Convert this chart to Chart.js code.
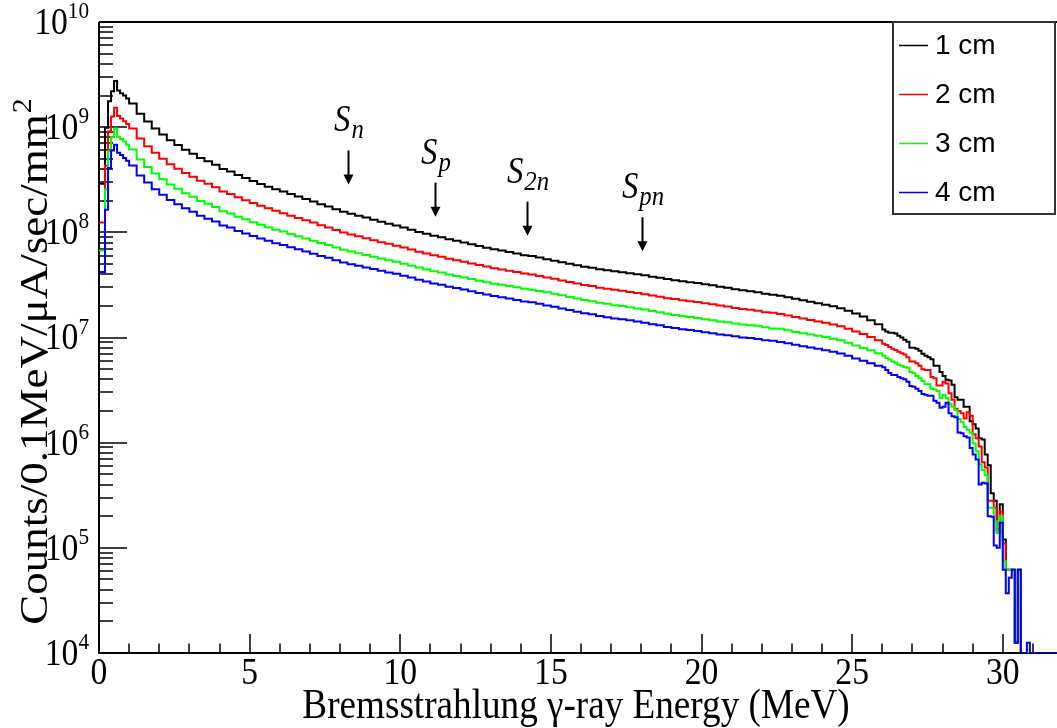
<!DOCTYPE html>
<html>
<head>
<meta charset="utf-8">
<title>Bremsstrahlung spectrum</title>
<script src="https://cdn.jsdelivr.net/npm/chart.js@4.4.1/dist/chart.umd.min.js"></script>
<style>
  html, body { margin: 0; padding: 0; background: #fff; }
  canvas { display: block; }
</style>
</head>
<body>
<canvas id="spectrum" width="1057" height="728"></canvas>
<script>
// BINNING (MeV): [from, to, bin width]
const binning = [[0, 1, 0.1], [1, 26, 0.25], [26, 32, 0.1]];

// COUNTS PER BIN (counts / 0.1 MeV / uA / sec / mm^2)
const counts1cm = [
  // 0.0 - 1.0
  2.9e8, 2.9e8, 9.9e8, 1.76e9, 2.2e9, 2.75e9, 2.23e9, 2.1e9, 2.0e9, 1.87e9,
  // 1.0 - 26.0
  1.68e9, 1.34e9, 1.13e9, 9.7e8, 8.5e8, 7.5e8, 6.75e8, 6.1e8, 5.6e8, 5.1e8,
  4.75e8, 4.4e8, 4.0e8, 3.78e8, 3.5e8, 3.28e8, 3.07e8, 2.88e8, 2.72e8, 2.57e8,
  2.44e8, 2.31e8, 2.19e8, 2.07e8, 1.96e8, 1.85e8, 1.76e8, 1.66e8, 1.57e8, 1.50e8,
  1.44e8, 1.38e8, 1.32e8, 1.26e8, 1.21e8, 1.16e8, 1.11e8, 1.06e8, 1.01e8, 9.7e7,
  9.3e7, 9.0e7, 8.6e7, 8.3e7, 8.0e7, 7.7e7, 7.4e7, 7.15e7, 6.9e7, 6.7e7,
  6.5e7, 6.3e7, 6.07e7, 5.94e7, 5.75e7, 5.56e7, 5.38e7, 5.2e7, 5.04e7, 4.87e7,
  4.71e7, 4.61e7, 4.46e7, 4.37e7, 4.27e7, 4.18e7, 4.09e7, 4.0e7, 3.91e7, 3.79e7,
  3.7e7, 3.6e7, 3.51e7, 3.43e7, 3.36e7, 3.29e7, 3.21e7, 3.14e7, 3.04e7, 2.98e7,
  2.88e7, 2.82e7, 2.76e7, 2.70e7, 2.61e7, 2.55e7, 2.50e7, 2.42e7, 2.34e7, 2.26e7,
  2.19e7, 2.12e7, 2.05e7, 1.98e7, 1.90e7, 1.80e7, 1.69e7, 1.58e7, 1.46e7, 1.34e7,
  // 26.0 - 32.0
  1.19e7, 1.14e7, 1.11e7, 1.11e7, 1.09e7, 1.04e7, 1.0e7, 9.5e6, 9.1e6, 8.0e6,
  8.0e6, 7.8e6, 7.5e6, 7.0e6, 6.7e6, 6.5e6, 6.2e6, 5.4e6, 5.4e6, 4.7e6,
  4.3e6, 3.96e6, 3.9e6, 3.55e6, 2.7e6, 2.56e6, 2.56e6, 2.2e6, 2.2e6, 1.6e6,
  1.5e6, 1.36e6, 1.1e6, 1.07e6, 7.7e5, 6.1e5, 3.3e5, 2.8e5, 1.4e5, 2.6e5,
  1.2e5, 6.2e4, 6.2e4, 6.2e4, 1.25e4, 6.2e4, 0, 0, 0, 0,
  0, 0, 0, 0, 0, 0, 0, 0, 0, 0
];

const counts2cm = [
  1.24e8, 1.24e8, 4.3e8, 9.1e8, 1.26e9, 1.53e9, 1.28e9, 1.21e9, 1.14e9, 1.07e9,
  9.7e8, 7.8e8, 6.6e8, 5.7e8, 5.0e8, 4.45e8, 4.03e8, 3.66e8, 3.38e8, 3.09e8,
  2.89e8, 2.68e8, 2.44e8, 2.32e8, 2.15e8, 2.02e8, 1.90e8, 1.79e8, 1.69e8, 1.60e8,
  1.52e8, 1.44e8, 1.37e8, 1.30e8, 1.24e8, 1.17e8, 1.11e8, 1.05e8, 9.95e7, 9.54e7,
  9.17e7, 8.8e7, 8.43e7, 8.06e7, 7.77e7, 7.46e7, 7.16e7, 6.85e7, 6.54e7, 6.3e7,
  6.05e7, 5.87e7, 5.62e7, 5.43e7, 5.25e7, 5.06e7, 4.88e7, 4.72e7, 4.56e7, 4.44e7,
  4.32e7, 4.19e7, 4.05e7, 3.97e7, 3.85e7, 3.73e7, 3.62e7, 3.49e7, 3.38e7, 3.26e7,
  3.15e7, 3.08e7, 2.97e7, 2.91e7, 2.84e7, 2.78e7, 2.71e7, 2.65e7, 2.58e7, 2.51e7,
  2.44e7, 2.36e7, 2.32e7, 2.26e7, 2.21e7, 2.17e7, 2.12e7, 2.07e7, 2.01e7, 1.97e7,
  1.91e7, 1.87e7, 1.84e7, 1.80e7, 1.74e7, 1.72e7, 1.67e7, 1.62e7, 1.57e7, 1.52e7,
  1.47e7, 1.42e7, 1.38e7, 1.33e7, 1.28e7, 1.21e7, 1.14e7, 1.08e7, 1.01e7, 9.4e6,
  8.7e6, 8.5e6, 8.1e6, 7.8e6, 7.6e6, 7.3e6, 7.1e6, 6.9e6, 6.5e6, 5.9e6,
  5.9e6, 5.7e6, 5.4e6, 5.0e6, 4.9e6, 4.9e6, 4.2e6, 4.1e6, 3.5e6, 3.5e6,
  3.8e6, 3.65e6, 2.95e6, 2.56e6, 2.1e6, 2.0e6, 1.9e6, 1.7e6, 1.95e6, 1.8e6,
  1.2e6, 1.1e6, 9.2e5, 6.5e5, 5.8e5, 2.8e5, 2.8e5, 2.4e5, 1.5e5, 2.2e5,
  1.1e5, 6.2e4, 6.2e4, 6.2e4, 1.25e4, 6.2e4, 0, 0, 0, 0,
  0, 0, 0, 0, 0, 0, 0, 0, 0, 0
];

const counts3cm = [
  6.7e7, 6.7e7, 2.55e8, 5.9e8, 8.0e8, 9.7e8, 8.1e8, 7.7e8, 7.3e8, 6.8e8,
  6.13e8, 4.93e8, 4.19e8, 3.63e8, 3.2e8, 2.85e8, 2.59e8, 2.35e8, 2.18e8, 1.99e8,
  1.87e8, 1.74e8, 1.59e8, 1.51e8, 1.41e8, 1.33e8, 1.25e8, 1.18e8, 1.12e8, 1.06e8,
  1.02e8, 9.66e7, 9.2e7, 8.76e7, 8.33e7, 7.92e7, 7.57e7, 7.19e7, 6.83e7, 6.57e7,
  6.34e7, 6.1e7, 5.86e7, 5.63e7, 5.43e7, 5.24e7, 5.04e7, 4.82e7, 4.62e7, 4.44e7,
  4.27e7, 4.14e7, 3.97e7, 3.84e7, 3.71e7, 3.59e7, 3.46e7, 3.36e7, 3.25e7, 3.17e7,
  3.08e7, 3.0e7, 2.9e7, 2.85e7, 2.77e7, 2.69e7, 2.61e7, 2.52e7, 2.43e7, 2.35e7,
  2.27e7, 2.21e7, 2.14e7, 2.09e7, 2.03e7, 1.99e7, 1.94e7, 1.89e7, 1.85e7, 1.79e7,
  1.74e7, 1.68e7, 1.64e7, 1.60e7, 1.57e7, 1.53e7, 1.49e7, 1.46e7, 1.42e7, 1.40e7,
  1.36e7, 1.33e7, 1.31e7, 1.29e7, 1.25e7, 1.22e7, 1.21e7, 1.17e7, 1.13e7, 1.10e7,
  1.07e7, 1.04e7, 1.01e7, 9.74e6, 9.39e6, 8.91e6, 8.38e6, 7.93e6, 7.56e6, 7.1e6,
  6.7e6, 6.4e6, 6.15e6, 5.9e6, 5.75e6, 5.5e6, 5.4e6, 5.25e6, 5.15e6, 4.7e6,
  4.6e6, 4.3e6, 4.1e6, 3.85e6, 3.6e6, 3.6e6, 3.25e6, 3.2e6, 3.1e6, 2.66e6,
  2.85e6, 2.66e6, 2.34e6, 2.2e6, 2.05e6, 1.68e6, 1.58e6, 1.41e6, 1.33e6, 1.24e6,
  9.8e5, 8.3e5, 6.2e5, 5.5e5, 4.9e5, 2.4e5, 2.4e5, 1.8e5, 1.4e5, 2.0e5,
  7.5e4, 6.2e4, 6.2e4, 6.2e4, 1.25e4, 6.2e4, 0, 0, 0, 0,
  0, 0, 0, 0, 0, 0, 0, 0, 0, 0
];

const counts4cm = [
  4.2e7, 4.2e7, 1.64e8, 4.1e8, 6.0e8, 6.8e8, 5.7e8, 5.45e8, 5.1e8, 4.8e8,
  4.32e8, 3.48e8, 2.97e8, 2.57e8, 2.28e8, 2.03e8, 1.85e8, 1.69e8, 1.57e8, 1.44e8,
  1.35e8, 1.27e8, 1.16e8, 1.11e8, 1.03e8, 9.74e7, 9.21e7, 8.73e7, 8.3e7, 7.89e7,
  7.56e7, 7.23e7, 6.9e7, 6.56e7, 6.27e7, 5.96e7, 5.72e7, 5.43e7, 5.17e7, 4.98e7,
  4.81e7, 4.64e7, 4.47e7, 4.31e7, 4.16e7, 4.03e7, 3.87e7, 3.71e7, 3.55e7, 3.41e7,
  3.27e7, 3.18e7, 3.04e7, 2.95e7, 2.86e7, 2.75e7, 2.65e7, 2.57e7, 2.48e7, 2.41e7,
  2.35e7, 2.27e7, 2.2e7, 2.16e7, 2.09e7, 2.02e7, 1.96e7, 1.89e7, 1.83e7, 1.76e7,
  1.70e7, 1.66e7, 1.60e7, 1.56e7, 1.52e7, 1.49e7, 1.46e7, 1.42e7, 1.38e7, 1.34e7,
  1.31e7, 1.26e7, 1.23e7, 1.20e7, 1.18e7, 1.15e7, 1.12e7, 1.10e7, 1.07e7, 1.05e7,
  1.03e7, 1.0e7, 9.88e6, 9.69e6, 9.42e6, 9.3e6, 9.08e6, 8.81e6, 8.54e6, 8.27e6,
  8.04e6, 7.8e6, 7.56e6, 7.33e6, 7.05e6, 6.7e6, 6.3e6, 6.02e6, 5.68e6, 5.39e6,
  5.2e6, 4.9e6, 4.6e6, 4.4e6, 4.4e6, 4.2e6, 4.1e6, 4.0e6, 3.8e6, 3.45e6,
  3.4e6, 3.25e6, 3.1e6, 2.9e6, 2.85e6, 2.8e6, 2.8e6, 2.5e6, 2.4e6, 2.15e6,
  2.2e6, 2.4e6, 1.9e6, 1.78e6, 1.74e6, 1.25e6, 1.23e6, 1.15e6, 1.12e6, 8.9e5,
  7.7e5, 6.9e5, 4.0e5, 4.15e5, 4.1e5, 2.0e5, 1.97e5, 1.05e5, 1.0e5, 1.73e5,
  6.2e4, 3.7e4, 5.2e4, 6.2e4, 1.25e4, 6.2e4, 0, 0, 1.25e4, 0,
  0, 0, 0, 0, 0, 0, 0, 0, 0, 0
];

const thickness = ["1 cm", "2 cm", "3 cm", "4 cm"];
const lineColors = ["#000000", "#ff0000", "#00ff00", "#0000ff"];

// separation thresholds: name, subscript, energy (MeV), arrow tip (counts)
const thresholdName = ["S", "S", "S", "S"];
const thresholdSub = ["n", "p", "2n", "pn"];
const thresholdEnergy = [8.28, 11.16, 14.22, 18.04];
const thresholdTip = [2.85e8, 1.41e8, 9.3e7, 6.6e7];

// axis ticks
const xLabels = [0, 5, 10, 15, 20, 25, 30];
const yExponents = [4, 5, 6, 7, 8, 9, 10];

const Y_MIN = 1e4, Y_MAX = 1e10;
const X_MIN = 0, X_MAX = 31.8;

// bin low edges
const edges = [];
binning.forEach(([from, to, w]) => {
    const n = Math.round((to - from) / w);
    for (let i = 0; i < n; i++) edges.push(+(from + i * w).toFixed(2));
});
edges.push(32);

// histogram -> step points (empty bins sit on the axis floor)
function histPoints(values) {
    if (values.length !== edges.length - 1) throw new Error("bin count " + values.length);
    const pts = values.map((v, i) => ({ x: edges[i], y: v > 0 ? v : Y_MIN }));
    pts.push({ x: edges[values.length], y: pts[pts.length - 1].y });
    return pts;
}

const series = [counts1cm, counts2cm, counts3cm, counts4cm];

const SERIF = '"Liberation Serif", "Times New Roman", serif';
const SANS = '"Liberation Sans", Arial, sans-serif';
const SQ = 0.885;   // serif text is drawn slightly condensed

function textWidth(ctx, text, font) {
    ctx.font = font;
    return ctx.measureText(text).width * SQ;
}

function condensedText(ctx, text, x, y, font, align, baseline) {
    ctx.save();
    ctx.translate(x, y);
    ctx.scale(SQ, 1);
    ctx.font = font;
    ctx.textAlign = align;
    ctx.textBaseline = baseline;
    ctx.fillText(text, 0, 0);
    ctx.restore();
}

// FRAME + TICKS (under the histograms)
const framePlugin = {
    id: 'frame',
    beforeDatasetsDraw(chart) {
        const { ctx, chartArea: a, scales: { x, y } } = chart;
        ctx.save();
        ctx.strokeStyle = '#000';
        ctx.lineWidth = 2;
        ctx.beginPath();
        ctx.moveTo(a.left, a.top);
        ctx.lineTo(a.right, a.top);
        ctx.moveTo(a.left, a.top);
        ctx.lineTo(a.left, a.bottom);
        ctx.lineTo(a.right, a.bottom);
        ctx.stroke();

        ctx.lineWidth = 1.5;
        ctx.beginPath();
        for (let e = 4; e < 10; e++) {
            for (let k = 1; k < 10; k++) {
                const py = Math.round(y.getPixelForValue(k * Math.pow(10, e)));
                const len = k === 1 ? 28 : 14;
                ctx.moveTo(a.left, py);
                ctx.lineTo(a.left + len, py);
            }
        }
        for (let v = 1; v <= 31; v++) {
            const px = Math.round(x.getPixelForValue(v));
            const len = v % 5 === 0 ? 19 : 9.5;
            ctx.moveTo(px, a.bottom);
            ctx.lineTo(px, a.bottom - len);
        }
        ctx.stroke();
        ctx.restore();
    }
};

// LABELS, LEGEND, THRESHOLD ARROWS
const overlayPlugin = {
    id: 'overlay',
    afterDraw(chart) {
        const { ctx, chartArea: a, scales: { x, y } } = chart;
        ctx.save();
        ctx.fillStyle = '#000';
        ctx.strokeStyle = '#000';

        // y tick labels 10^n, right aligned
        const baseFont = '38px ' + SERIF;
        const expFont = '24px ' + SERIF;
        yExponents.forEach(e => {
            const py = y.getPixelForValue(Math.pow(10, e));
            const wExp = textWidth(ctx, String(e), expFont);
            const xr = 89 - wExp;
            condensedText(ctx, '10', xr, py + 2, baseFont, 'right', 'middle');
            condensedText(ctx, String(e), xr, py - 4, expFont, 'left', 'alphabetic');
        });

        // x tick labels
        xLabels.forEach(v => condensedText(ctx, String(v), x.getPixelForValue(v), 674, baseFont, 'center', 'middle'));

        // axis titles
        condensedText(ctx, 'Bremsstrahlung \u03b3-ray Energy (MeV)', 576, 718, '42px ' + SERIF, 'center', 'alphabetic');

        ctx.save();
        ctx.translate(47, 362);
        ctx.scale(SQ, 1);
        ctx.rotate(-Math.PI / 2);
        const yTitle = 'Counts/0.1MeV/\u03bcA/sec/mm';
        ctx.font = '45px ' + SERIF;
        const wMain = ctx.measureText(yTitle).width;
        ctx.font = '30px ' + SERIF;
        const wSup = ctx.measureText('2').width;
        const x0 = -(wMain + wSup) / 2;
        ctx.textAlign = 'left';
        ctx.textBaseline = 'alphabetic';
        ctx.font = '45px ' + SERIF;
        ctx.fillText(yTitle, x0, 0);
        ctx.font = '30px ' + SERIF;
        ctx.fillText('2', x0 + wMain + 1, -18);
        ctx.restore();

        // threshold arrows
        thresholdEnergy.forEach((E, i) => {
            const px = Math.round(x.getPixelForValue(E)) + 0.5;
            const tip = y.getPixelForValue(thresholdTip[i]);
            const top = tip - 34;
            ctx.lineWidth = 2;
            ctx.beginPath();
            ctx.moveTo(px, top);
            ctx.lineTo(px, tip - 8);
            ctx.stroke();
            ctx.beginPath();
            ctx.moveTo(px - 5, tip - 10);
            ctx.lineTo(px + 5, tip - 10);
            ctx.lineTo(px, tip);
            ctx.closePath();
            ctx.fill();

            const sFont = 'italic 37px ' + SERIF;
            const subFont = 'italic 28px ' + SERIF;
            const wS = textWidth(ctx, thresholdName[i], sFont);
            const wSub = textWidth(ctx, thresholdSub[i], subFont);
            const left = px - (wS + wSub) / 2;
            const base = top - 19;
            condensedText(ctx, thresholdName[i], left, base, sFont, 'left', 'alphabetic');
            condensedText(ctx, thresholdSub[i], left + wS + 1, base + 7, subFont, 'left', 'alphabetic');
        });

        // legend box
        ctx.fillStyle = '#fff';
        ctx.fillRect(893, 22, 162, 192);
        ctx.strokeStyle = '#333';
        ctx.lineWidth = 2;
        ctx.strokeRect(893, 22, 162, 192);
        thickness.forEach((label, i) => {
            const ly = 45 + i * 49;
            ctx.strokeStyle = lineColors[i];
            ctx.lineWidth = 1.5;
            ctx.beginPath();
            ctx.moveTo(899, ly + 0.5);
            ctx.lineTo(928, ly + 0.5);
            ctx.stroke();
            ctx.fillStyle = '#000';
            ctx.font = '28px ' + SANS;
            ctx.textAlign = 'left';
            ctx.textBaseline = 'middle';
            ctx.fillText(label, 935, ly + 1);
        });
        ctx.restore();
    }
};

const spectrumChart = new Chart(document.getElementById('spectrum'), {
    type: 'line',
    data: {
        datasets: series.map((values, i) => ({
            label: thickness[i],
            data: histPoints(values),
            borderColor: lineColors[i],
            borderWidth: 2,
            stepped: true,
            pointRadius: 0,
            fill: false,
            order: series.length - i
        }))
    },
    options: {
        responsive: false,
        animation: false,
        devicePixelRatio: 1,
        events: [],
        layout: { padding: { top: 22, left: 0, right: 0, bottom: 0 } },
        plugins: { legend: { display: false }, tooltip: { enabled: false } },
        scales: {
            x: {
                type: 'linear', min: X_MIN, max: X_MAX,
                grid: { display: false }, border: { display: false },
                ticks: { display: false },
                afterFit: s => { s.height = 75; }
            },
            y: {
                type: 'logarithmic', min: Y_MIN, max: Y_MAX,
                grid: { display: false }, border: { display: false },
                ticks: { display: false },
                afterFit: s => { s.width = 99; }
            }
        }
    },
    plugins: [framePlugin, overlayPlugin]
});
</script>
</body>
</html>
